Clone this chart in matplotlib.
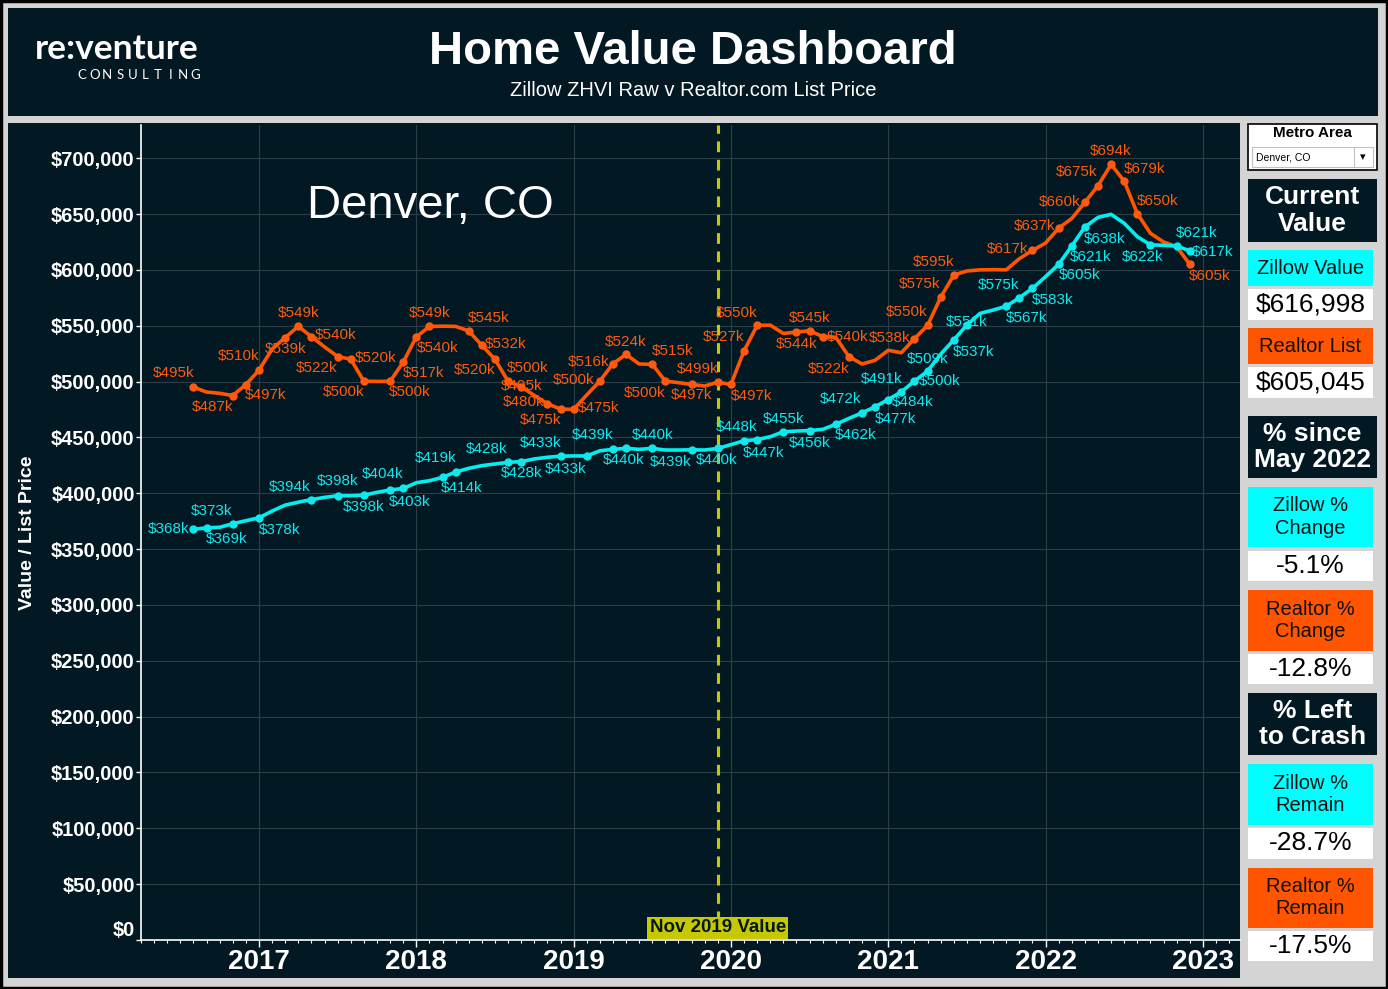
import numpy as np
import matplotlib
matplotlib.use("Agg")
import matplotlib.pyplot as plt
from matplotlib.patches import Rectangle
from matplotlib import font_manager

# monthly values in $k, Jul 2016 .. Nov 2022 (plotted at month end)
zillow = [367.7, 369.0, 369.5, 372.7, 375.4, 378.0, 384.0, 389.4, 392.0, 394.3,
          396.3, 397.8, 397.8, 398.3, 400.8, 402.9, 404.3, 409.4, 411.2, 414.2,
          419.0, 422.3, 424.7, 426.2, 427.7, 428.3, 430.7, 432.2, 433.2, 433.4,
          433.4, 438.0, 439.3, 440.2, 439.3, 440.2, 438.7, 438.7, 438.9, 438.7,
          440.1, 443.5, 447.0, 448.0, 450.6, 455.0, 455.7, 456.1, 457.2, 461.7,
          467.0, 472.0, 477.4, 483.9, 490.8, 500.4, 509.4, 524.5, 537.3, 550.6,
          561.0, 564.0, 567.4, 575.0, 583.4, 593.9, 605.0, 621.3, 638.4, 647.0,
          649.7, 641.7, 629.7, 622.4, 622.0, 621.3, 616.998]
realtor = [495.0, 490.6, 489.5, 487.4, 497.3, 510.2, 529.0, 539.4, 549.4, 540.2,
           531.0, 522.4, 520.0, 500.3, 500.1, 500.2, 517.3, 540.0, 549.3, 549.6,
           549.4, 545.3, 532.4, 520.0, 500.3, 495.3, 487.6, 480.2, 475.3, 475.1,
           488.0, 500.4, 516.0, 524.3, 515.7, 515.4, 500.4, 499.0, 497.4, 496.0,
           499.4, 497.4, 527.4, 550.3, 550.5, 543.0, 544.4, 545.4, 540.3, 539.6,
           522.3, 515.7, 519.0, 528.0, 525.8, 538.4, 550.2, 575.4, 595.3, 599.0,
           600.0, 600.2, 600.0, 610.0, 617.4, 624.0, 637.3, 646.0, 660.4, 675.4,
           694.4, 679.4, 650.4, 632.7, 625.0, 620.7, 605.045]
start_year, start_month = 2016, 7
nov2019_index = 40
years = [2017, 2018, 2019, 2020, 2021, 2022, 2023]
ytick_vals = list(range(0, 700001, 50000))

# labelled points: (index, dx, dy) label offset in pixels
realtor_labels = [(0, -20, 14), (3, -20, -11), (4, 20, -10), (5, -20, 14), (7, 0, -11), (8, 0, 13),
                  (9, 24, 2), (11, -21, -11), (12, 25, 1), (13, -20, -11), (15, 20, -11), (16, 20, -11),
                  (17, 21, -11), (18, 0, 13), (21, 20, 13), (22, 24, 1), (23, -20, -11), (24, 20, 13),
                  (25, 0, 1), (27, -24, 2), (28, -20, -11), (29, 25, 1), (31, -26, 1), (32, -24, 2),
                  (33, 0, 12), (35, 20, 13), (36, -21, -12), (38, 0, -11), (40, -20, 13), (41, 21, -12),
                  (42, -20, 14), (43, -20, 12), (46, 0, -12), (47, 0, 13), (48, 25, 0), (50, -20, -12),
                  (55, -25, 1), (56, -21, 13), (57, -21, 13), (58, -20, 13), (64, -25, 1), (66, -24, 2),
                  (68, -25, 0), (69, -21, 14), (70, 0, 13), (71, 20, 12), (72, 20, 13), (76, 20, -12)]
zillow_labels = [(0, -25, 0), (1, 20, -11), (3, -21, 13), (5, 21, -12), (9, -22, 13), (11, 0, 15),
                 (13, 0, -12), (15, 20, -12), (16, -21, 14), (19, 19, -11), (20, -20, 14), (24, -21, 13),
                 (25, 0, -11), (28, -20, 13), (30, -21, -13), (32, -20, 14), (33, -2, -12), (35, 0, 13),
                 (38, -21, -12), (40, -1, -12), (42, 20, -12), (43, -20, 13), (45, 0, 13), (47, 0, -12),
                 (49, 20, -11), (51, -21, 14), (52, 20, -12), (53, 24, -2), (54, -20, 13), (55, 25, 0),
                 (56, 0, 12), (58, 20, -12), (59, 0, 3), (62, 20, -12), (63, -21, 13), (64, 20, -12),
                 (66, 21, -11), (67, 19, -11), (68, 20, -12), (73, -8, -12), (75, 20, 13), (76, 23, -1)]

side_boxes = [("Current\nValue", "dark", 179, 242), ("Zillow Value", "cyan", 250, 286),
              ("$616,998", "white", 289, 320), ("Realtor List", "orange", 328, 364),
              ("$605,045", "white", 367, 398), ("% since\nMay 2022", "dark", 416, 478),
              ("Zillow %\nChange", "cyan", 487, 547), ("-5.1%", "white", 551, 581),
              ("Realtor %\nChange", "orange", 590, 651), ("-12.8%", "white", 654, 684),
              ("% Left\nto Crash", "dark", 693, 755), ("Zillow %\nRemain", "cyan", 764, 825),
              ("-28.7%", "white", 828, 859), ("Realtor %\nRemain", "orange", 868, 928),
              ("-17.5%", "white", 931, 961)]

DARK = "#021923"
GRAY = "#d4d4d4"
CYAN = "#00f0f0"
ORANGE = "#ff5500"
YEL = "#c8c800"
W, H = 1388, 989

names = {f.name for f in font_manager.fontManager.ttflist}
SANS = "Liberation Sans" if "Liberation Sans" in names else "DejaVu Sans"
NARROW = "Liberation Sans Narrow" if "Liberation Sans Narrow" in names else SANS
LOGO = "Lato" if "Lato" in names else SANS
plt.rcParams["font.family"] = [SANS, "DejaVu Sans"]

fig = plt.figure(figsize=(W / 100, H / 100), dpi=100, facecolor=GRAY)


def fbox(x0, y0, x1, y1, color, **kw):
    fig.patches.append(Rectangle((x0 / W, 1 - y1 / H), (x1 - x0) / W, (y1 - y0) / H,
                                 transform=fig.transFigure, facecolor=color,
                                 zorder=kw.pop("zorder", -1), **kw))


def ftext(x, y, s, **kw):
    fig.text(x / W, 1 - y / H, s, ha=kw.pop("ha", "center"), va=kw.pop("va", "center"), **kw)


# frame and panels
fbox(1, 1, W - 1, H - 1, "none", edgecolor="black", linewidth=2.5)
fbox(8, 8, 1378, 116, DARK)
fbox(8, 123, 1240, 978, DARK)

# header
ftext(693, 52, "Home Value Dashboard", color="white", fontsize=34, fontweight="bold")
ftext(693, 90, "Zillow ZHVI Raw v Realtor.com List Price", color="white", fontsize=14.5, family=NARROW)
ftext(117, 49, "re:venture", color="white", fontsize=25.5, family=LOGO, fontweight="bold")
for k, ch in enumerate("CONSULTING"):
    ftext(82 + k * 12.6, 75, ch, color="white", fontsize=9.5, family=LOGO)

# chart
ax = fig.add_axes([141 / W, 1 - 940 / H, (1240 - 141) / W, (940 - 125) / H])
ax.set_zorder(2)
ax.patch.set_alpha(0)
xs = start_year + (start_month + np.arange(len(zillow))) / 12.0
zv = np.array(zillow) * 1000
rv = np.array(realtor) * 1000

ax.set_xlim(2016.25, 2023.236)
ax.set_ylim(0, 729700)
ax.set_xticks(years)
ax.set_xticklabels([str(y) for y in years])
ax.set_xticks(np.arange(2016.25, 2023.24, 1 / 12), minor=True)
ax.set_yticks(ytick_vals)
ax.set_yticklabels(["${:,}".format(v) for v in ytick_vals])
ax.grid(True, color="#2c3e48", linewidth=0.8)
ax.set_axisbelow(True)
for s in ["top", "right"]:
    ax.spines[s].set_visible(False)
for s in ["left", "bottom"]:
    ax.spines[s].set_color("white")
    ax.spines[s].set_linewidth(1.2)
ax.tick_params(axis="y", colors="white", length=3.5, width=1, labelsize=14.5, pad=1)
ax.tick_params(axis="x", which="major", colors="white", length=5, width=1, labelsize=20, pad=1.5)
ax.tick_params(axis="x", which="minor", colors="white", length=2.5, width=0.8)
for t in ax.get_yticklabels():
    t.set_fontweight("bold")
for t in ax.get_xticklabels():
    t.set_fontweight("bold")
    t.set_family(NARROW)
ax.get_yticklabels()[0].set_va("bottom")
ax.set_ylabel("Value / List Price", color="white", fontsize=14, fontweight="bold")
ax.yaxis.set_label_coords(-0.0955, 0.5)

ax.axvline(xs[nov2019_index], color=YEL, linestyle=(0, (3.5, 2.5)), linewidth=2.2, zorder=2)
ax.annotate("Nov 2019 Value", (xs[nov2019_index], 0), xytext=(0, 12), textcoords="offset pixels",
            ha="center", va="center", fontsize=13.5, fontweight="bold", color=DARK, family=NARROW,
            bbox=dict(boxstyle="square,pad=0.12", facecolor=YEL, edgecolor="none"), zorder=3)

ax.plot(xs, rv, color=ORANGE, linewidth=2.6, solid_joinstyle="round", zorder=4)
ax.plot(xs, zv, color=CYAN, linewidth=2.6, solid_joinstyle="round", zorder=4)

for vals, labels, col in [(rv, realtor_labels, "#ff5a10"), (zv, zillow_labels, "#10e8ee")]:
    idx = [l[0] for l in labels]
    ax.plot(xs[idx], vals[idx], "o", color=col, markersize=5, zorder=5)
    for i, dx, dy in labels:
        ax.annotate("${}k".format(int(round(vals[i] / 1000))), (xs[i], vals[i]), xytext=(dx, dy),
                    textcoords="offset pixels", ha="center", va="center", fontsize=11,
                    color=col, zorder=6)

ax.text(430 / W, 1 - 206 / H, "Denver, CO", transform=fig.transFigure, ha="center", va="center",
        fontsize=34, color="white")

# side panel
fbox(1248, 124, 1377, 170, "white", edgecolor="black", linewidth=1.2)
ftext(1312, 133, "Metro Area", color="black", fontsize=11, fontweight="bold")
fbox(1252, 147, 1373, 167, "white", edgecolor="#c0c0c0", linewidth=0.8)
ftext(1256, 157, "Denver, CO", color="black", fontsize=7.5, ha="left")
fig.lines.append(plt.Line2D([1354 / W, 1354 / W], [1 - 148 / H, 1 - 166 / H], color="#c0c0c0",
                            linewidth=0.8, transform=fig.transFigure))
ftext(1363, 157, "\u25be", color="black", fontsize=8, family="DejaVu Sans")

colors = {"dark": DARK, "cyan": "#00ffff", "orange": ORANGE, "white": "white"}
for text, kind, y0, y1 in side_boxes:
    x1 = 1377 if kind == "dark" else 1373
    fbox(1248, y0, x1, y1, colors[kind])
    cy = (y0 + y1) / 2
    if kind == "dark":
        ftext((1248 + x1) / 2, cy, text, color="white", fontsize=19, fontweight="bold", linespacing=1.15)
    elif kind == "white":
        ftext((1248 + x1) / 2, cy, text, color="black", fontsize=19)
    else:
        ftext((1248 + x1) / 2, cy, text, color="#111111", fontsize=14.5, linespacing=1.2)

fig.savefig("out.png", dpi=100, facecolor=GRAY)
